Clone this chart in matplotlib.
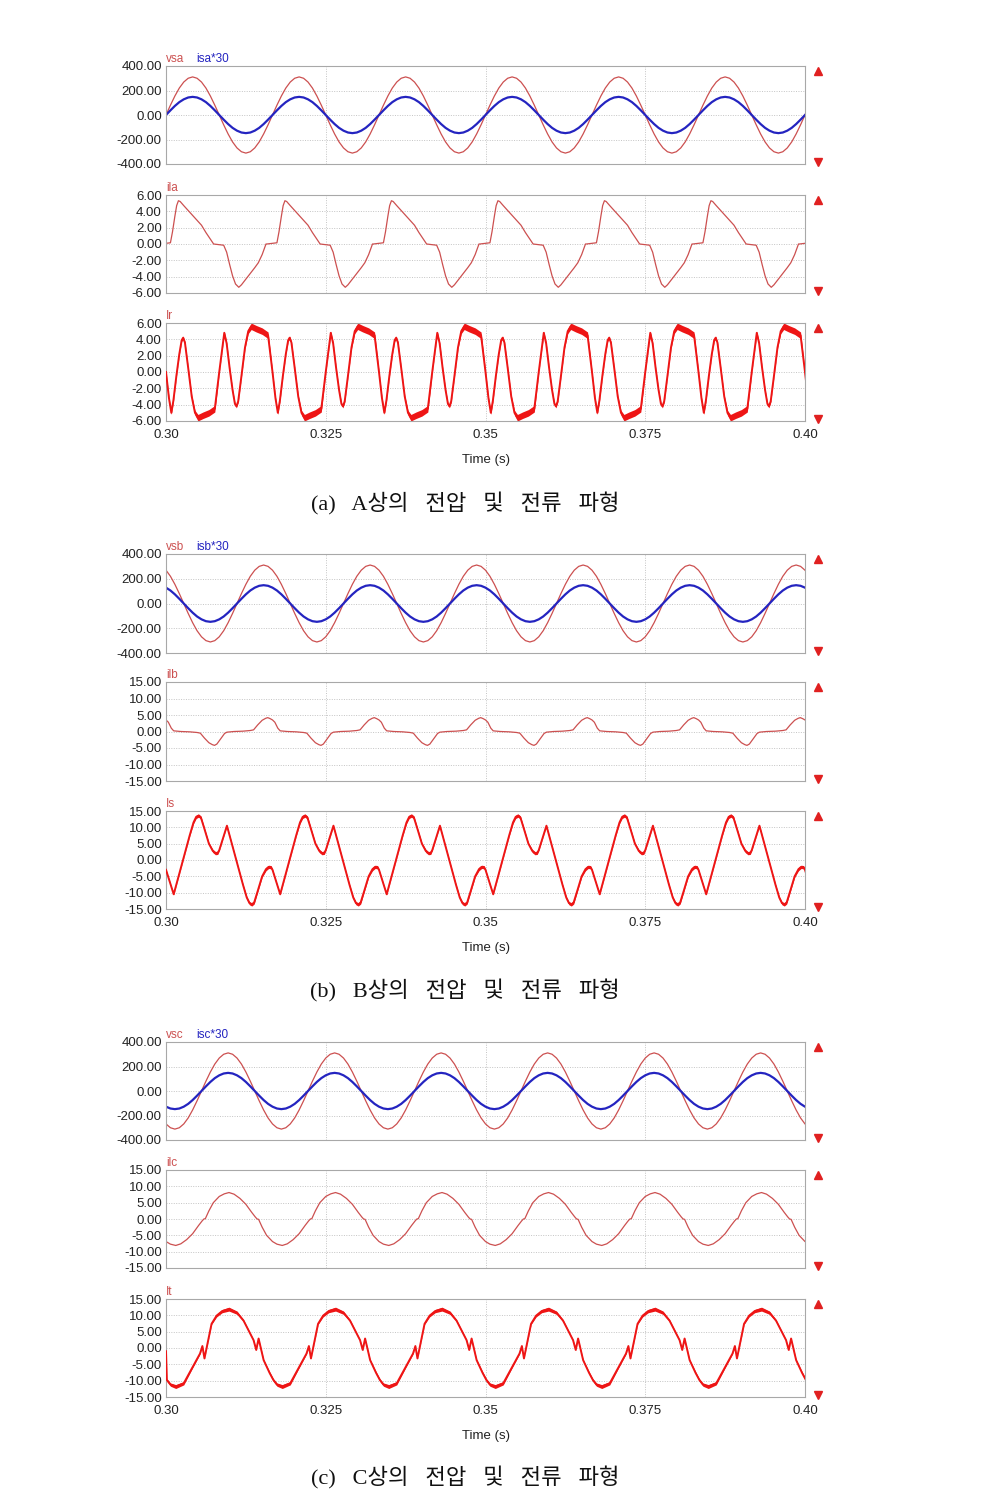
import numpy as np
import matplotlib.pyplot as plt

plt.rcParams['font.family'] = ['Liberation Sans', 'DejaVu Sans']

# one 60 Hz cycle, angles in degrees from t = 0.30 s
sine_deg = list(range(0, 360, 15))

vsa = [0, 80, 155, 220, 269, 300, 311, 300, 269, 220, 155, 80,
       0, -80, -155, -220, -269, -300, -311, -300, -269, -220, -155, -80]
isa30 = [0, 38, 74, 105, 128, 143, 148, 143, 128, 105, 74, 38,
         0, -38, -74, -105, -128, -143, -148, -143, -128, -105, -74, -38]
vsb = [269, 220, 155, 80, 0, -80, -155, -220, -269, -300, -311, -300,
       -269, -220, -155, -80, 0, 80, 155, 220, 269, 300, 311, 300]
isb30 = [128, 105, 74, 38, 0, -38, -74, -105, -128, -143, -148, -143,
         -128, -105, -74, -38, 0, 38, 74, 105, 128, 143, 148, 143]
vsc = [-269, -300, -311, -300, -269, -220, -155, -80, 0, 80, 155, 220,
       269, 300, 311, 300, 269, 220, 155, 80, 0, -80, -155, -220]
isc30 = [-128, -143, -148, -143, -128, -105, -74, -38, 0, 38, 74, 105,
         128, 143, 148, 143, 128, 105, 74, 38, 0, -38, -74, -105]

ila_deg = [-19, 15, 22, 30, 36, 42, 48, 60, 75, 90, 105, 120, 135, 150, 161,
           195, 205, 215, 225, 235, 246, 255, 270, 285, 300, 312, 325, 333, 338]
ila = [0.0, 0.15, 1.5, 3.4, 4.7, 5.3, 5.2, 4.7, 4.1, 3.5, 2.9, 2.3, 1.4, 0.6, 0.0,
       -0.15, -1.0, -2.5, -3.9, -4.9, -5.3, -5.0, -4.3, -3.6, -2.9, -2.3, -1.3, -0.5, 0.0]

ir_deg = [0, 10, 18, 25, 35, 45, 53, 58, 64, 75, 87, 98, 108, 125, 145, 165, 180,
          190, 197, 205, 215, 225, 233, 238, 244, 255, 267, 278, 288, 305, 325, 345]
ir = [0.0, -3.2, -5.0, -3.5, -0.5, 2.2, 3.9, 4.2, 3.6, 0.5, -3.0, -5.0, -5.6, -5.3, -5.0, -4.5, 0.0,
      2.8, 4.8, 3.5, 0.5, -2.2, -3.9, -4.2, -3.6, -0.5, 3.0, 5.0, 5.6, 5.3, 5.0, 4.5]
ir_ripple = [0.1, 0.15, 0.2, 0.15, 0.1, 0.1, 0.15, 0.2, 0.15, 0.1, 0.15, 0.3, 0.4, 0.4, 0.4, 0.4, 0.1,
             0.1, 0.2, 0.15, 0.1, 0.1, 0.15, 0.2, 0.15, 0.1, 0.15, 0.3, 0.4, 0.4, 0.4, 0.4]

ilb_deg = [0, 8, 18, 26, 50, 80, 105, 116, 130, 145, 157, 164, 172, 185, 198, 206,
           230, 260, 285, 296, 310, 325, 337, 344, 352]
ilb = [3.5, 2.8, 1.0, 0.2, 0.0, -0.1, -0.3, -0.5, -2.0, -3.4, -4.0, -4.2, -3.8, -2.2, -0.6, -0.2,
       0.0, 0.1, 0.3, 0.5, 2.0, 3.4, 4.0, 4.2, 3.9]

is_deg = [0, 13, 26, 35, 50, 65, 80, 93, 102, 110, 118, 130, 145, 158, 167, 175,
          180, 193, 206, 215, 230, 245, 260, 273, 282, 290, 298, 310, 325, 338, 347, 355]
is_ = [-3.0, -6.8, -10.5, -7.5, -2.5, 2.5, 7.5, 11.5, 13.2, 13.6, 13.0, 9.5, 5.0, 2.8, 2.1, 2.2,
       3.0, 6.8, 10.5, 7.5, 2.5, -2.5, -7.5, -11.5, -13.2, -13.6, -13.0, -9.5, -5.0, -2.8, -2.1, -2.2]
is_ripple = [0.2, 0.15, 0.15, 0.15, 0.15, 0.15, 0.2, 0.4, 0.5, 0.5, 0.5, 0.3, 0.3, 0.5, 0.5, 0.5,
             0.2, 0.15, 0.15, 0.15, 0.15, 0.15, 0.2, 0.4, 0.5, 0.5, 0.5, 0.3, 0.3, 0.5, 0.5, 0.5]

ilc_deg = [0, 15, 33, 50, 70, 90, 110, 122, 128, 133, 145, 160, 180,
           197, 213, 230, 250, 270, 290, 302, 308, 313, 325, 340]
ilc = [-6.9, -7.7, -8.1, -7.6, -6.3, -4.5, -2.0, -0.6, 0.0, 0.1, 2.5, 5.0, 6.9,
       7.7, 8.1, 7.6, 6.3, 4.5, 2.0, 0.6, 0.0, -0.1, -2.5, -5.0]

it_deg = [3, 15, 33, 60, 87, 115, 123, 130, 154, 171, 190, 213, 240, 262, 296, 305, 313, 330, 350]
it = [-9.8, -11.2, -11.8, -10.8, -6.3, -1.7, 0.6, -3.2, 7.4, 9.9, 11.3, 11.9, 10.8, 8.4, 2.4, -0.6, 2.9, -3.7, -7.6]
it_ripple = [0.4, 0.5, 0.6, 0.5, 0.3, 0.15, 0.1, 0.1, 0.2, 0.4, 0.5, 0.6, 0.5, 0.3, 0.15, 0.1, 0.1, 0.2, 0.4]
it_start = -1.0  # first sample at t = 0.30

x_ticks = [0.30, 0.325, 0.35, 0.375, 0.40]
x_labels = ['0.30', '0.325', '0.35', '0.375', '0.40']
v_ticks = [-400, -200, 0, 200, 400]
i6_ticks = [-6, -4, -2, 0, 2, 4, 6]
i15_ticks = [-15, -10, -5, 0, 5, 10, 15]

captions = ['(a)   A상의   전압   및   전류   파형',
            '(b)   B상의   전압   및   전류   파형',
            '(c)   C상의   전압   및   전류   파형']

RED_THIN = '#cc5050'
RED = '#ee1515'
BLUE = '#2424c0'


def tile(deg, vals, n=7):
    d = np.concatenate([np.asarray(deg, float) + 360 * k for k in range(n)])
    v = np.tile(np.asarray(vals, float), n)
    return 0.30 + d / 360 / 60, v


fig = plt.figure(figsize=(9.94, 15.03), dpi=100)


def panel(top, bottom, ylim, yticks, names, colors, xaxis=False):
    ax = fig.add_axes([166 / 994, 1 - bottom / 1503, 639 / 994, (bottom - top) / 1503])
    ax.set_xlim(0.30, 0.40)
    ax.set_ylim(*ylim)
    ax.set_yticks(yticks)
    ax.set_yticklabels(['%.2f' % v for v in yticks])
    ax.set_xticks(x_ticks)
    if xaxis:
        ax.set_xticklabels(x_labels)
        ax.set_xlabel('Time (s)', fontsize=9.5, color='#222222', labelpad=9)
    else:
        ax.set_xticklabels([])
    ax.tick_params(length=0, labelsize=9.5, labelcolor='#222222', pad=3)
    ax.tick_params(axis='x', pad=6)
    for y in yticks[1:-1]:
        ax.axhline(y, color='#c4c4c4', lw=0.7, ls=(0, (1, 1.5)), zorder=0)
    for x in x_ticks[1:-1]:
        ax.axvline(x, color='#c4c4c4', lw=0.7, ls=(0, (1, 1.5)), zorder=0)
    for s in ax.spines.values():
        s.set_color('#a8a8a8')
        s.set_linewidth(0.8)
    xpos = 0.0
    for name, c in zip(names, colors):
        ax.text(xpos, 1.015, name, color=c, fontsize=8.5, transform=ax.transAxes,
                ha='left', va='bottom')
        xpos += 0.047
    ax.plot([1.02], [0.95], marker='^', color='#e02020', ms=5.5,
            transform=ax.transAxes, clip_on=False)
    ax.plot([1.02], [0.02], marker='v', color='#e02020', ms=5.5,
            transform=ax.transAxes, clip_on=False)
    return ax


def thick(ax, deg, vals, ripple, start=None):
    t, v = tile(deg, vals)
    _, r = tile(deg, ripple)
    if start is not None:
        t = np.insert(t, 0, 0.30)
        v = np.insert(v, 0, start)
        r = np.insert(r, 0, 0.1)
    ax.fill_between(t, v - r, v + r, color=RED, lw=0, zorder=2)
    ax.plot(t, v, color=RED, lw=1.4, zorder=3)


# (a)
ax = panel(66, 164, (-400, 400), v_ticks, ['vsa', 'isa*30'], [RED_THIN, BLUE])
t, v = tile(sine_deg + [360], vsa + [vsa[0]])
ax.plot(t, v, color=RED_THIN, lw=0.9)
t, v = tile(sine_deg + [360], isa30 + [isa30[0]])
ax.plot(t, v, color=BLUE, lw=1.6)

ax = panel(195, 293, (-6, 6), i6_ticks, ['ila'], [RED_THIN])
t, v = tile(ila_deg, ila)
ax.plot(t, v, color=RED_THIN, lw=0.9)

ax = panel(323, 421, (-6, 6), i6_ticks, ['Ir'], [RED_THIN], xaxis=True)
thick(ax, ir_deg, ir, ir_ripple)

# (b)
ax = panel(554, 653, (-400, 400), v_ticks, ['vsb', 'isb*30'], [RED_THIN, BLUE])
t, v = tile(sine_deg + [360], vsb + [vsb[0]])
ax.plot(t, v, color=RED_THIN, lw=0.9)
t, v = tile(sine_deg + [360], isb30 + [isb30[0]])
ax.plot(t, v, color=BLUE, lw=1.6)

ax = panel(682, 781, (-15, 15), i15_ticks, ['ilb'], [RED_THIN])
t, v = tile(ilb_deg, ilb)
ax.plot(t, v, color=RED_THIN, lw=0.9)

ax = panel(811, 909, (-15, 15), i15_ticks, ['Is'], [RED_THIN], xaxis=True)
thick(ax, is_deg, is_, is_ripple)

# (c)
ax = panel(1042, 1140, (-400, 400), v_ticks, ['vsc', 'isc*30'], [RED_THIN, BLUE])
t, v = tile(sine_deg + [360], vsc + [vsc[0]])
ax.plot(t, v, color=RED_THIN, lw=0.9)
t, v = tile(sine_deg + [360], isc30 + [isc30[0]])
ax.plot(t, v, color=BLUE, lw=1.6)

ax = panel(1170, 1268, (-15, 15), i15_ticks, ['ilc'], [RED_THIN])
t, v = tile(ilc_deg, ilc)
ax.plot(t, v, color=RED_THIN, lw=0.9)

ax = panel(1299, 1397, (-15, 15), i15_ticks, ['It'], [RED_THIN], xaxis=True)
thick(ax, it_deg, it, it_ripple, start=it_start)

for y, cap in zip([504, 991, 1478], captions):
    fig.text(465 / 994, 1 - y / 1503, cap, ha='center', va='center', fontsize=16,
             family=['Liberation Serif', 'Noto Sans CJK KR'], color='#111111')

fig.savefig('out.png', dpi=100)
